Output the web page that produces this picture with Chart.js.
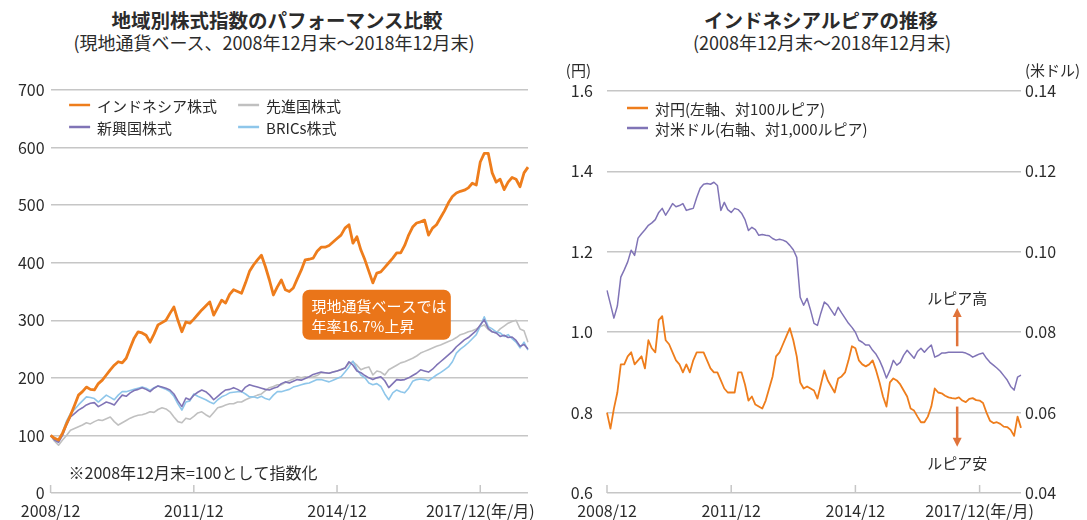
<!DOCTYPE html>
<html><head><meta charset="utf-8">
<script src="https://cdn.jsdelivr.net/npm/chart.js@4.4.1/dist/chart.umd.min.js"></script>
<style>
html,body{margin:0;padding:0;background:#fff;width:1087px;height:520px;overflow:hidden;font-family:"Noto Sans CJK JP","Noto Sans",sans-serif;}
.cv{position:absolute;top:0;}
.t{position:absolute;text-align:center;color:#2b2b2b;white-space:nowrap;}
</style></head><body>
<div class="t" style="left:77px;width:400px;top:8px;font-size:19.5px;line-height:24px;font-weight:bold;">地域別株式指数のパフォーマンス比較</div>
<div class="t" style="left:54px;width:440px;top:31px;font-size:18px;line-height:22px;">(現地通貨ベース、2008年12月末～2018年12月末)</div>
<div class="t" style="left:621px;width:400px;top:8px;font-size:19.5px;line-height:24px;font-weight:bold;">インドネシアルピアの推移</div>
<div class="t" style="left:622px;width:400px;top:31px;font-size:18px;line-height:22px;">(2008年12月末～2018年12月末)</div>
<canvas id="cL" class="cv" style="left:0px" width="545" height="520"></canvas>
<canvas id="cR" class="cv" style="left:545px" width="542" height="520"></canvas>
<script>
// ---------- data ----------
const xTickLabels = ['2008/12','2011/12','2014/12','2017/12'];
const xUnit = '(年/月)';
const stockSeriesNames = ['インドネシア株式','新興国株式','BRICs株式','先進国株式'];
const indonesia = [100,95,92,104,120,135,152,170,176,184,
180,179,190,196,205,214,222,228,226,234,
252,269,280,278,274,262,276,292,296,300,
312,323,300,280,297,295,302,310,318,325,
332,309,322,335,330,345,353,350,347,365,
385,396,405,413,393,370,344,358,370,353,
350,356,372,387,405,406,408,420,427,427,
430,436,442,448,460,466,434,445,422,405,
385,365,382,384,392,400,408,417,417,430,
448,462,469,471,474,448,460,466,478,490,
504,515,521,524,526,530,538,535,575,590,
590,556,540,545,527,540,548,545,532,556,
566];
const emerging = [100,92,88,100,118,132,138,144,148,153,
156,157,150,154,158,156,153,162,170,168,
174,178,180,183,180,176,182,186,184,182,
179,172,160,150,165,162,170,175,179,176,
170,162,168,174,179,180,183,180,176,184,
188,186,184,182,180,179,182,184,190,193,
191,194,197,196,199,202,206,208,210,209,
208,210,212,214,217,228,222,212,209,204,
200,197,200,202,195,183,190,197,196,197,
200,204,208,214,212,210,215,222,228,234,
240,246,254,260,266,270,276,282,292,301,
286,280,278,272,274,270,271,265,255,258,
250];
const brics = [100,92,89,105,125,138,145,153,160,167,
166,164,158,164,170,166,162,170,176,176,
178,180,182,184,182,178,183,186,183,180,
176,168,155,144,158,160,172,168,165,162,
158,155,162,167,170,174,175,176,176,172,
167,167,165,168,164,162,170,176,176,178,
180,184,186,188,190,191,194,197,197,195,
193,196,199,202,210,219,229,215,205,200,
191,188,190,185,172,162,174,179,176,174,
182,194,197,198,197,195,200,205,209,214,
219,228,243,250,255,261,268,275,290,306,
289,285,280,278,272,275,268,262,252,262,
248];
const developed = [100,90,83,92,100,109,112,115,118,122,
120,124,127,126,129,132,124,118,122,126,
130,133,135,136,138,141,140,145,148,146,
141,132,124,122,130,128,133,139,141,136,
132,140,148,150,153,155,155,158,158,162,
165,167,170,172,178,183,185,188,188,192,
195,198,202,200,202,201,202,204,209,209,
208,210,212,215,217,225,228,222,214,217,
219,205,212,210,205,214,218,222,226,228,
231,234,238,243,246,249,252,255,257,260,
263,266,270,275,277,280,282,285,289,292,
284,280,278,285,290,295,298,300,285,282,
262];
const fxSeriesNames = ['対円(左軸、対100ルピア)','対米ドル(右軸、対1,000ルピア)'];
const idrJpy = [0.80,0.76,0.81,0.85,0.92,0.92,0.94,0.95,0.92,0.93,
0.94,0.91,0.98,0.96,0.95,1.03,1.04,0.98,0.97,0.95,
0.93,0.92,0.90,0.92,0.90,0.93,0.95,0.95,0.95,0.93,
0.91,0.90,0.90,0.88,0.86,0.85,0.85,0.85,0.90,0.90,
0.87,0.83,0.84,0.82,0.815,0.81,0.83,0.86,0.89,0.94,
0.95,0.97,0.99,1.01,0.98,0.94,0.875,0.86,0.865,0.86,
0.855,0.835,0.87,0.905,0.88,0.865,0.85,0.885,0.89,0.90,
0.93,0.965,0.96,0.93,0.92,0.915,0.92,0.93,0.905,0.875,
0.84,0.815,0.875,0.885,0.88,0.87,0.855,0.84,0.81,0.805,
0.79,0.776,0.776,0.79,0.815,0.86,0.85,0.848,0.842,0.838,
0.836,0.835,0.838,0.83,0.826,0.834,0.836,0.831,0.83,0.824,
0.80,0.78,0.774,0.776,0.772,0.765,0.764,0.757,0.742,0.79,
0.762];
const idrUsd = [0.0904,0.087,0.0835,0.0865,0.0937,0.0955,0.0975,0.1004,0.0991,0.1034,
0.1045,0.1055,0.1066,0.1072,0.108,0.1098,0.1108,0.1091,0.1105,0.112,
0.1112,0.1115,0.112,0.1103,0.1106,0.1108,0.1135,0.1158,0.1168,0.117,
0.1168,0.1173,0.1165,0.1103,0.1123,0.1105,0.1098,0.1108,0.1105,0.1096,
0.108,0.1053,0.1061,0.1055,0.1041,0.1043,0.1041,0.104,0.1033,0.1029,
0.1031,0.1029,0.1025,0.1016,0.1005,0.0986,0.0887,0.0867,0.0884,0.0855,
0.0822,0.0817,0.0848,0.0875,0.0868,0.0855,0.0842,0.0862,0.0848,0.0835,
0.0822,0.0812,0.080,0.078,0.0775,0.0768,0.0768,0.0755,0.0745,0.073,
0.071,0.0686,0.0705,0.073,0.0718,0.0725,0.0743,0.0755,0.0745,0.0735,
0.0752,0.076,0.075,0.076,0.0768,0.0738,0.0742,0.0748,0.0748,0.075,
0.075,0.075,0.075,0.075,0.0748,0.0744,0.0738,0.0742,0.0746,0.0748,
0.0735,0.0725,0.0718,0.0711,0.0703,0.0692,0.0681,0.0665,0.0656,0.0688,
0.0693];
const noteText = '※2008年12月末=100として指数化';
const annoLines = ['現地通貨ベースでは','年率16.7%上昇'];
const upText = 'ルピア高', downText = 'ルピア安';

// ---------- helpers ----------
const F = '"Noto Sans CJK JP","Noto Sans",sans-serif';
const TXT = '#2b2b2b', GRID = '#c6c6c6';
const ORANGE = '#ee7d1c', PURPLE = '#8074b6', BLUE = '#8ec6ea', GRAY = '#c0c0c0', BOX = '#ea7519', ARROW = '#e0733a';
const months = (() => { const a = []; let y = 2008, m = 12; for (let i = 0; i <= 120; i++) { a.push(y + '/' + m); m++; if (m > 12) { m = 1; y++; } } return a; })();
const xTickIdx = xTickLabels.map(l => months.indexOf(l));
function tickCb(v, i) { const k = xTickIdx.indexOf(i); if (k < 0) return null; return k === xTickLabels.length - 1 ? xTickLabels[k] + xUnit : xTickLabels[k]; }

const xTickMarks = { id: 'xTickMarks', afterDatasetsDraw(c) {
  const s = c.scales.x, ctx = c.ctx, b = c.chartArea.bottom;
  ctx.save(); ctx.strokeStyle = GRID; ctx.lineWidth = 1.5;
  xTickIdx.forEach(i => { const x = s.getPixelForValue(i); ctx.beginPath(); ctx.moveTo(x, b); ctx.lineTo(x, b - 8); ctx.stroke(); });
  ctx.restore(); } };

function legendPlugin(items) { return { id: 'customLegend', afterDraw(c) {
  const ctx = c.ctx, a = c.chartArea; ctx.save(); ctx.font = '15px ' + F; ctx.textBaseline = 'middle';
  items.forEach(it => { const ds = c.data.datasets[it.ds]; const x = a.left + it.dx, y = a.top + it.dy;
    ctx.strokeStyle = ds.borderColor; ctx.lineWidth = 2.5; ctx.beginPath(); ctx.moveTo(x, y); ctx.lineTo(x + 21, y); ctx.stroke();
    ctx.fillStyle = TXT; ctx.fillText(ds.label, x + 28, y + 1); });
  ctx.restore(); } }; }

const commonX = { type: 'category', offset: false, grid: { display: false, drawTicks: false }, border: { display: false },
  ticks: { autoSkip: false, maxRotation: 0, minRotation: 0, padding: 8, font: { size: 16, family: F }, color: TXT, callback: tickCb },
  afterFit: s => { s.height = 27; } };

// ---------- left chart ----------
const leftExtras = { id: 'leftExtras', afterDatasetsDraw(c) {
  const x = c.scales.x, y = c.scales.y, ctx = c.ctx, a = c.chartArea;
  ctx.save();
  const l = x.getPixelForValue(63.3), r = x.getPixelForValue(100.6), t = y.getPixelForValue(353), b = y.getPixelForValue(266);
  ctx.fillStyle = BOX; ctx.beginPath(); ctx.roundRect(l, t, r - l, b - t, 7); ctx.fill();
  ctx.fillStyle = '#fff'; ctx.font = '15px ' + F; ctx.textBaseline = 'middle';
  ctx.fillText(annoLines[0], l + 9, t + 17); ctx.fillText(annoLines[1], l + 9, t + 37);
  ctx.fillStyle = TXT; ctx.font = '16px ' + F; ctx.fillText(noteText, a.left + 18, a.bottom - 20);
  ctx.restore(); } };

new Chart(document.getElementById('cL'), {
  type: 'line',
  data: { labels: months, datasets: [
    { label: stockSeriesNames[0], data: indonesia, borderColor: ORANGE, borderWidth: 2.8 },
    { label: stockSeriesNames[1], data: emerging, borderColor: PURPLE, borderWidth: 1.6 },
    { label: stockSeriesNames[2], data: brics, borderColor: BLUE, borderWidth: 1.6 },
    { label: stockSeriesNames[3], data: developed, borderColor: GRAY, borderWidth: 1.6 } ] },
  options: { responsive: false, animation: false, devicePixelRatio: 1,
    layout: { padding: { top: 90, left: 0, right: 17, bottom: 0 } },
    elements: { point: { radius: 0 }, line: { tension: 0, borderJoinStyle: 'round' } },
    plugins: { legend: { display: false }, tooltip: { enabled: false }, title: { display: false } },
    scales: { x: commonX,
      y: { min: 0, max: 700, ticks: { stepSize: 100, padding: 6, font: { size: 16, family: F }, color: TXT },
        grid: { color: GRID, lineWidth: 1.5, drawTicks: false }, border: { display: false }, afterFit: s => { s.width = 50.6; } } } },
  plugins: [xTickMarks, leftExtras, legendPlugin([{ ds: 0, dx: 18.5, dy: 15 }, { ds: 3, dx: 187.5, dy: 15 }, { ds: 1, dx: 18.5, dy: 37 }, { ds: 2, dx: 187.5, dy: 37 }])]
});

// ---------- right chart ----------
function arrow(ctx, x, y0, y1) { const dir = y1 < y0 ? -1 : 1; ctx.beginPath(); ctx.moveTo(x, y0); ctx.lineTo(x, y1 - dir * 7); ctx.stroke();
  ctx.beginPath(); ctx.moveTo(x, y1); ctx.lineTo(x - 4.5, y1 - dir * 9); ctx.lineTo(x + 4.5, y1 - dir * 9); ctx.closePath(); ctx.fill(); }
const rightExtras = { id: 'rightExtras', afterDatasetsDraw(c) {
  const x = c.scales.x, y = c.scales.y, ctx = c.ctx, a = c.chartArea;
  ctx.save(); ctx.strokeStyle = ARROW; ctx.fillStyle = ARROW; ctx.lineWidth = 2.5;
  const px = x.getPixelForValue(101.5);
  arrow(ctx, px, y.getPixelForValue(0.965), y.getPixelForValue(1.06));
  arrow(ctx, px, y.getPixelForValue(0.815), y.getPixelForValue(0.715));
  ctx.fillStyle = TXT; ctx.font = '15px ' + F; ctx.textBaseline = 'middle'; ctx.textAlign = 'center';
  ctx.fillText(upText, px, y.getPixelForValue(1.084)); ctx.fillText(downText, px, y.getPixelForValue(0.675));
  ctx.textAlign = 'right'; ctx.fillText('(円)', a.left - 16, 70);
  ctx.textAlign = 'left'; ctx.fillText('(米ドル)', a.right + 4, 70);
  ctx.restore(); } };

new Chart(document.getElementById('cR'), {
  type: 'line',
  data: { labels: months, datasets: [
    { label: fxSeriesNames[0], data: idrJpy, borderColor: ORANGE, borderWidth: 1.8, yAxisID: 'y' },
    { label: fxSeriesNames[1], data: idrUsd, borderColor: PURPLE, borderWidth: 1.5, yAxisID: 'y1' } ] },
  options: { responsive: false, animation: false, devicePixelRatio: 1,
    layout: { padding: { top: 91, left: 0, right: 0, bottom: 0 } },
    elements: { point: { radius: 0 }, line: { tension: 0, borderJoinStyle: 'round' } },
    plugins: { legend: { display: false }, tooltip: { enabled: false }, title: { display: false } },
    scales: { x: commonX,
      y: { position: 'left', min: 0.6, max: 1.6, ticks: { stepSize: 0.2, padding: 14, font: { size: 16, family: F }, color: TXT, callback: v => Number(v).toFixed(1) },
        grid: { color: GRID, lineWidth: 1.5, drawTicks: false }, border: { display: false }, afterFit: s => { s.width = 62; } },
      y1: { position: 'right', min: 0.04, max: 0.14, ticks: { stepSize: 0.02, padding: 4, font: { size: 16, family: F }, color: TXT, callback: v => Number(v).toFixed(2) },
        grid: { display: false, drawTicks: false }, border: { display: false }, afterFit: s => { s.width = 66; } } } },
  plugins: [xTickMarks, rightExtras, legendPlugin([{ ds: 0, dx: 20, dy: 17 }, { ds: 1, dx: 20, dy: 37 }])]
});
</script>
</body></html>
